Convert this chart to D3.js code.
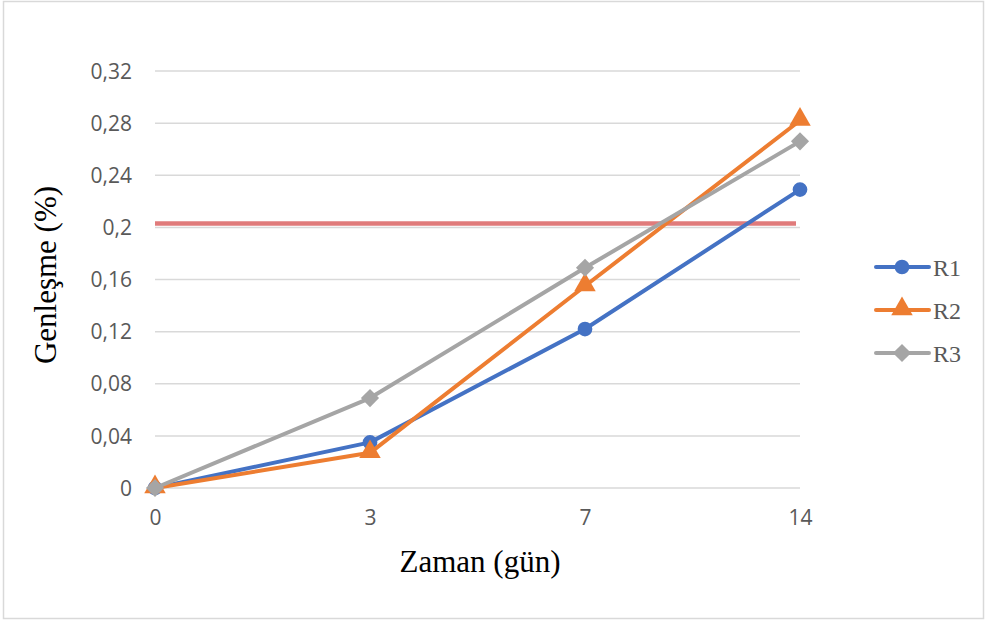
<!DOCTYPE html>
<html>
<head>
<meta charset="utf-8">
<script src="https://cdn.jsdelivr.net/npm/d3@7"></script>
<style>
  html, body { margin: 0; padding: 0; background: #fff; }
  svg { display: block; }
</style>
</head>
<body>
<svg id="chart" width="985" height="621"></svg>
<script>
// ---- data ----
const categories = ["0", "3", "7", "14"];
const seriesNames = ["R1", "R2", "R3"];
const r1Values = [0, 0.035, 0.122, 0.229];
const r2Values = [0, 0.027, 0.155, 0.282];
const r3Values = [0, 0.069, 0.169, 0.266];
const yTicks = [0, 0.04, 0.08, 0.12, 0.16, 0.2, 0.24, 0.28, 0.32];
const limitValue = 0.203;
const xTitle = "Zaman (gün)";
const yTitle = "Genleşme (%)";

const series = [
  { name: seriesNames[0], values: r1Values, color: "#4472C4", shape: "circle" },
  { name: seriesNames[1], values: r2Values, color: "#ED7D31", shape: "triangle" },
  { name: seriesNames[2], values: r3Values, color: "#A5A5A5", shape: "diamond" }
];

const svg = d3.select("#chart");
const W = 985, H = 621;

// outer border
svg.append("rect").attr("x", 3.5).attr("y", 1.5).attr("width", W - 5).attr("height", H - 4)
  .attr("fill", "#fff").attr("stroke", "#d9d9d9").attr("stroke-width", 1.5);

const plot = { left: 155, right: 800, top: 71, bottom: 488 };

const x = d3.scalePoint().domain(categories).range([plot.left, plot.right]);
const y = d3.scaleLinear().domain([0, 0.32]).range([plot.bottom, plot.top]);

const fmt = d => d3.format(".2~f")(d).replace(".", ",");

// gridlines
svg.append("g").selectAll("line").data(yTicks).join("line")
  .attr("x1", plot.left).attr("x2", plot.right)
  .attr("y1", d => y(d)).attr("y2", d => y(d))
  .attr("stroke", "#d9d9d9").attr("stroke-width", 1.5);

// y axis labels
const yAxis = d3.axisLeft(y).tickValues(yTicks).tickFormat(fmt).tickSize(0).tickPadding(0);
const gy = svg.append("g").attr("transform", `translate(${plot.left - 23},0)`).call(yAxis);
gy.select(".domain").remove();
gy.selectAll("text").attr("font-family", "'Open Sans', sans-serif").attr("font-size", 21)
  .attr("fill", "#595959").attr("dy", "0.34em");

// x axis labels
const xAxis = d3.axisBottom(x).tickSize(0).tickPadding(0);
const gx = svg.append("g").attr("transform", `translate(0,525)`).call(xAxis);
gx.select(".domain").remove();
gx.selectAll("text").attr("font-family", "'Open Sans', sans-serif").attr("font-size", 21)
  .attr("fill", "#595959").attr("y", 0).attr("dy", 0);

// limit line
svg.append("line")
  .attr("x1", plot.left).attr("x2", plot.right - 4)
  .attr("y1", y(limitValue)).attr("y2", y(limitValue))
  .attr("stroke", "#E07B7B").attr("stroke-width", 4.5);

// symbols
function symbolFor(shape) {
  if (shape === "circle") return d3.symbol().type(d3.symbolCircle).size(170);
  if (shape === "triangle") return d3.symbol().type(d3.symbolTriangle).size(200);
  return d3.symbol().type(d3.symbolDiamond2).size(210);
}

const line = d3.line().x((d, i) => x(categories[i])).y(d => y(d));

series.forEach(s => {
  svg.append("path").datum(s.values).attr("d", line)
    .attr("fill", "none").attr("stroke", s.color).attr("stroke-width", 4)
    .attr("stroke-linejoin", "round").attr("stroke-linecap", "round");
  const sym = symbolFor(s.shape);
  svg.append("g").selectAll("path").data(s.values).join("path")
    .attr("d", sym())
    .attr("transform", (d, i) => {
      const dy = s.shape === "triangle" ? -1 : 0;
      return `translate(${x(categories[i])},${y(d) + dy})`;
    })
    .attr("fill", s.color);
});

// axis titles
svg.append("text").attr("x", 480).attr("y", 572).attr("text-anchor", "middle")
  .attr("font-family", "'Liberation Serif', 'Times New Roman', serif").attr("font-size", 31)
  .attr("fill", "#000").text(xTitle);
svg.append("text")
  .attr("transform", `translate(56,275) rotate(-90)`).attr("text-anchor", "middle")
  .attr("font-family", "'Liberation Serif', 'Times New Roman', serif").attr("font-size", 31)
  .attr("fill", "#000").text(yTitle);

// legend
const legend = svg.append("g");
series.forEach((s, i) => {
  const ly = 267 + i * 43;
  const g = legend.append("g");
  g.append("line").attr("x1", 876).attr("x2", 929).attr("y1", ly).attr("y2", ly)
    .attr("stroke", s.color).attr("stroke-width", 4).attr("stroke-linecap", "round");
  g.append("path").attr("d", symbolFor(s.shape)())
    .attr("transform", `translate(902,${ly + (s.shape === "triangle" ? -1 : 0)})`)
    .attr("fill", s.color);
  g.append("text").attr("x", 933).attr("y", ly + 9)
    .attr("font-family", "'Liberation Serif', 'Times New Roman', serif").attr("font-size", 24)
    .attr("fill", "#595959").text(s.name);
});
</script>
</body>
</html>
